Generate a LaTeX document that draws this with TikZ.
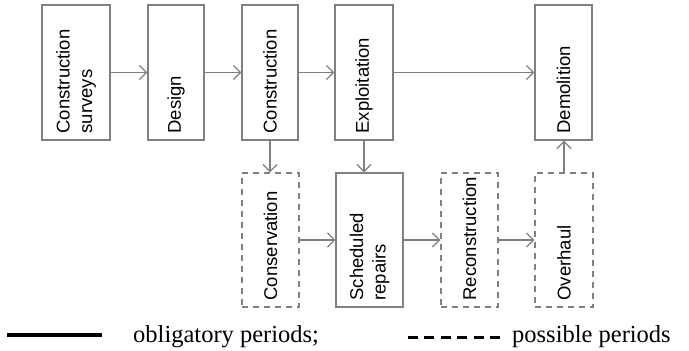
\documentclass[tikz,border=0pt]{standalone}
\usepackage{fontspec}
\setmainfont{Liberation Serif}
\newfontfamily\boxfont{Liberation Sans}
\usepackage{tikz}
\usetikzlibrary{arrows.meta, calc}
\usepackage{xcolor}
\definecolor{linegray}{RGB}{128,128,128}
\tikzset{
    period/.style={draw=linegray, line width=1.3pt, minimum height=135pt, inner sep=0pt},
    possible/.style={period, dash pattern=on 6pt off 5pt},
    flow/.style={draw=linegray, line width=1.3pt, -{Straight Barb[length=7pt, width=14pt, line width=1.3pt]}},
    lbl/.style={rotate=90, anchor=west, inner sep=0pt, align=left, text=black,
        font=\boxfont\fontsize{18.5}{22.5}\selectfont},
    legendtext/.style={font=\fontsize{24.5}{28}\selectfont, anchor=base west, inner sep=0pt}
}

\begin{document}
\begin{tikzpicture}[x=1pt, y=1pt]
    \useasboundingbox (0,0) rectangle (689,-351);
    % Periodos principais
    \node[period, minimum width=68pt] (surveys) at (76,-72.5) {};
    \node[period, minimum width=56pt] (design) at (176,-72.5) {};
    \node[period, minimum width=56pt] (constr) at (270,-72.5) {};
    \node[period, minimum width=58pt] (exploit) at (364,-72.5) {};
    \node[period, minimum width=57pt] (demol) at (563.5,-72.5) {};
    % Periodos possiveis
    \node[possible, minimum width=57pt, minimum height=134pt] (conserv) at (270.5,-240) {};
    \node[period, minimum width=67pt, minimum height=134pt] (repairs) at (369.5,-240) {};
    \node[possible, minimum width=57pt, minimum height=134pt] (reconstr) at (469.5,-240) {};
    \node[possible, minimum width=58pt, minimum height=134pt] (overhaul) at (564,-240) {};
    % Textos
    \node[lbl] (surveys-t) at ([yshift=7pt]surveys.south) {Construction\\surveys};
    \node[lbl] (design-t) at ([yshift=7pt]design.south) {Design};
    \node[lbl] (constr-t) at ([yshift=7pt]constr.south) {Construction};
    \node[lbl] (exploit-t) at ([yshift=7pt]exploit.south) {Exploitation};
    \node[lbl] (demol-t) at ([yshift=7pt]demol.south) {Demolition};
    \node[lbl] (conserv-t) at ([yshift=7pt]conserv.south) {Conservation};
    \node[lbl] (repairs-t) at ([yshift=7pt]repairs.south) {Scheduled\\repairs};
    \node[lbl] (reconstr-t) at ([yshift=7pt]reconstr.south) {Reconstruction};
    \node[lbl] (overhaul-t) at ([yshift=7pt]overhaul.south) {Overhaul};
    % Setas
    \draw[flow] (surveys) -- (design);
    \draw[flow] (design) -- (constr);
    \draw[flow] (constr) -- (exploit);
    \draw[flow] (exploit) -- (demol);
    \draw[flow] (constr.south) -- (constr.south |- conserv.north);
    \draw[flow] (exploit.south) -- (exploit.south |- repairs.north);
    \draw[flow] (conserv) -- (repairs);
    \draw[flow] (repairs) -- (reconstr);
    \draw[flow] (reconstr) -- (overhaul);
    \draw[flow] (overhaul.north) -- (overhaul.north |- demol.south);
    % Legenda
    \coordinate (solidA) at (7,-335);
    \coordinate (solidB) at (102,-335);
    \coordinate (dashA) at (408,-337);
    \coordinate (dashB) at (500,-337);
    \draw[line width=4pt] (solidA) -- (solidB);
    \draw[line width=3pt, dash pattern=on 10pt off 6.4pt] (dashA) -- (dashB);
    \node[legendtext] (obl) at (133,-342) {obligatory periods;};
    \node[legendtext] (poss) at (512,-342) {possible periods};
\end{tikzpicture}
\end{document}
